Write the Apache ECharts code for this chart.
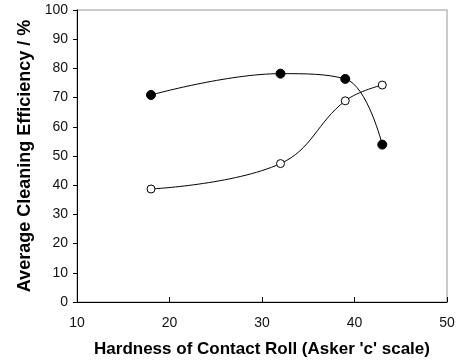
<!DOCTYPE html>
<html><head><meta charset="utf-8">
<script src="https://cdn.jsdelivr.net/npm/echarts@6/dist/echarts.min.js"></script>
<style>html,body{margin:0;padding:0;background:#fff}#c{width:456px;height:362px}</style>
</head><body><div id="c"></div>
<script>
const hardness = [18, 32, 39, 43];
const filledSeries = [70.9, 78.2, 76.4, 53.9];
const openSeries = [38.7, 47.4, 68.9, 74.3];
const xTicks = {min: 10, max: 50, interval: 10};
const yTicks = {min: 0, max: 100, interval: 10};

const chart = echarts.init(document.getElementById('c'));
const font = 'Liberation Sans, Arial, sans-serif';
chart.setOption({
  animation: false,
  grid: {left: 77, right: 9, top: 10, bottom: 60, show: true, borderColor: '#bbbbbb', borderWidth: 1.5,
         outerBoundsMode: 'none', containLabel: false},
  xAxis: {
    type: 'value', min: xTicks.min, max: xTicks.max, interval: xTicks.interval,
    name: "Hardness of Contact Roll (Asker 'c' scale)", nameLocation: 'middle', nameGap: 39,
    nameTextStyle: {fontFamily: font, fontWeight: 'bold', fontSize: 17, color: '#000'},
    axisLine: {lineStyle: {color: '#000', width: 1}},
    axisTick: {inside: true, length: 5, lineStyle: {color: '#000'}},
    axisLabel: {fontFamily: font, fontSize: 14, color: '#111', margin: 14},
    splitLine: {show: false}
  },
  yAxis: {
    type: 'value', min: yTicks.min, max: yTicks.max, interval: yTicks.interval,
    name: 'Average Cleaning Efficiency / %', nameLocation: 'middle', nameGap: 43,
    nameTextStyle: {fontFamily: font, fontWeight: 'bold', fontSize: 18, color: '#000'},
    axisLine: {show: true, lineStyle: {color: '#000', width: 1}},
    axisTick: {show: true, length: 4, lineStyle: {color: '#000'}},
    axisLabel: {fontFamily: font, fontSize: 14, color: '#111', margin: 9},
    splitLine: {show: false}
  },
  series: [
    {type: 'line', data: hardness.map((x, i) => [x, filledSeries[i]]), smooth: 0.4,
     symbol: 'circle', symbolSize: 9, itemStyle: {color: '#000', borderColor: '#000'},
     lineStyle: {color: '#000', width: 1}},
    {type: 'line', data: hardness.map((x, i) => [x, openSeries[i]]), smooth: 0.4,
     symbol: 'circle', symbolSize: 8, itemStyle: {color: '#fff', borderColor: '#000', borderWidth: 1},
     lineStyle: {color: '#000', width: 1}}
  ]
});
</script></body></html>
